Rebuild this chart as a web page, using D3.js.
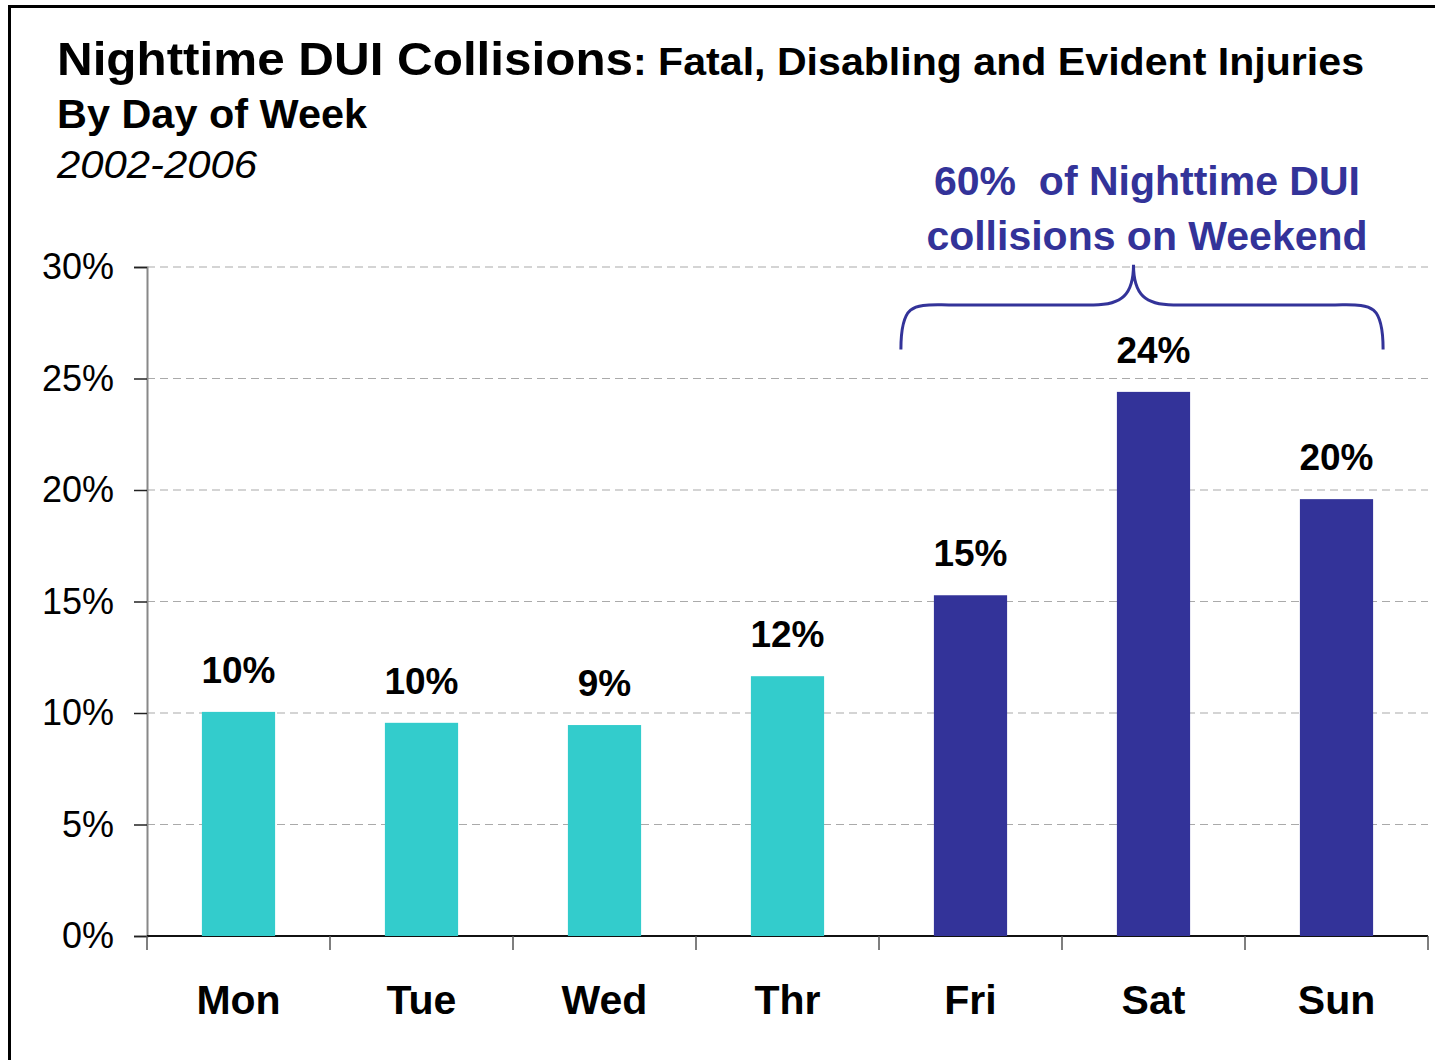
<!DOCTYPE html>
<html>
<head>
<meta charset="utf-8">
<script src="https://cdn.jsdelivr.net/npm/d3@7"></script>
<style>
  html, body { margin: 0; padding: 0; background: #fff; }
  svg { display: block; font-family: Arial, "Liberation Sans", Helvetica, sans-serif; }
</style>
</head>
<body>
<svg id="chart" width="1435" height="1060"></svg>
<script>
const days = ['Mon', 'Tue', 'Wed', 'Thr', 'Fri', 'Sat', 'Sun'];
const shares = [10.05, 9.56, 9.46, 11.65, 15.28, 24.4, 19.59];
const shareLabels = ['10%', '10%', '9%', '12%', '15%', '24%', '20%'];
const weekend = ['Fri', 'Sat', 'Sun'];
const yTicks = [0, 5, 10, 15, 20, 25, 30];

const width = 1435, height = 1060;
const margin = { top: 267, right: 7, bottom: 124, left: 147 };
const teal = '#33cccc', navy = '#333399';

const svg = d3.select('#chart');

// frame (left and top edges only show in the picture)
svg.append('path')
  .attr('d', `M9.5,${height} V6.5 H${width}`)
  .attr('fill', 'none')
  .attr('stroke', '#000')
  .attr('stroke-width', 3);

const x = d3.scaleBand()
  .domain(days)
  .range([margin.left, width - margin.right])
  .paddingInner(0.6)
  .paddingOuter(0.3);

const y = d3.scaleLinear()
  .domain([0, 30])
  .range([height - margin.bottom, margin.top]);

const step = x.step();
const bandStart = d => x(d) - step * 0.3;

// gridlines
svg.append('g')
  .selectAll('line')
  .data(yTicks.filter(t => t > 0))
  .join('line')
  .attr('x1', margin.left)
  .attr('x2', width - margin.right)
  .attr('y1', d => y(d))
  .attr('y2', d => y(d))
  .attr('stroke', '#aaa')
  .attr('stroke-width', 1.2)
  .attr('stroke-dasharray', '8,5');

// y axis
const yAxis = svg.append('g')
  .attr('transform', `translate(${margin.left},0)`)
  .call(d3.axisLeft(y).tickValues(yTicks).tickFormat(d => d + '%').tickSize(13).tickPadding(20));
yAxis.select('.domain').attr('stroke', '#888').attr('stroke-width', 2);
yAxis.selectAll('.tick line').attr('stroke', '#222').attr('stroke-width', 1.5);
yAxis.selectAll('.tick text')
  .attr('font-size', 36)
  .attr('fill', '#000')
  .attr('font-family', 'Arial, "Liberation Sans", sans-serif');

// x axis: ticks sit on category boundaries
const boundaries = days.map(bandStart).concat([width - margin.right]);
svg.append('line')
  .attr('x1', margin.left)
  .attr('x2', width - margin.right)
  .attr('y1', y(0))
  .attr('y2', y(0))
  .attr('stroke', '#111')
  .attr('stroke-width', 2);
svg.append('g')
  .selectAll('line')
  .data(boundaries)
  .join('line')
  .attr('x1', d => d)
  .attr('x2', d => d)
  .attr('y1', y(0))
  .attr('y2', y(0) + 14)
  .attr('stroke', '#555')
  .attr('stroke-width', 1.5);

svg.append('g')
  .selectAll('text')
  .data(days)
  .join('text')
  .attr('x', d => x(d) + x.bandwidth() / 2)
  .attr('y', y(0) + 78)
  .attr('text-anchor', 'middle')
  .attr('font-size', 41)
  .attr('font-weight', 'bold')
  .text(d => d);

// bars
svg.append('g')
  .selectAll('rect')
  .data(days)
  .join('rect')
  .attr('x', d => x(d))
  .attr('width', x.bandwidth())
  .attr('y', (d, i) => y(shares[i]))
  .attr('height', (d, i) => y(0) - y(shares[i]))
  .attr('fill', d => weekend.includes(d) ? navy : teal);

// value labels
svg.append('g')
  .selectAll('text')
  .data(days)
  .join('text')
  .attr('x', d => x(d) + x.bandwidth() / 2)
  .attr('y', (d, i) => y(shares[i]) - 29)
  .attr('text-anchor', 'middle')
  .attr('font-size', 37)
  .attr('font-weight', 'bold')
  .text((d, i) => shareLabels[i]);

// titles (source font runs a little wider than Arial, so stretch to fit)
svg.append('text')
  .attr('x', 57)
  .attr('y', 75)
  .attr('font-size', 47)
  .attr('font-weight', 'bold')
  .attr('textLength', 576)
  .attr('lengthAdjust', 'spacingAndGlyphs')
  .text('Nighttime DUI Collisions');

svg.append('text')
  .attr('x', 633)
  .attr('y', 75)
  .attr('font-size', 39)
  .attr('font-weight', 'bold')
  .attr('textLength', 731)
  .attr('lengthAdjust', 'spacingAndGlyphs')
  .text(': Fatal, Disabling and Evident Injuries');

svg.append('text')
  .attr('x', 57)
  .attr('y', 128)
  .attr('font-size', 40)
  .attr('font-weight', 'bold')
  .attr('textLength', 310)
  .attr('lengthAdjust', 'spacingAndGlyphs')
  .text('By Day of Week');

svg.append('text')
  .attr('x', 57)
  .attr('y', 178)
  .attr('font-size', 38)
  .attr('font-style', 'italic')
  .attr('textLength', 200)
  .attr('lengthAdjust', 'spacingAndGlyphs')
  .text('2002-2006');

// weekend annotation
const bx0 = x('Fri') - 33;
const bx1 = x('Sun') + x.bandwidth() + 10;
const tip = x('Sat') + x.bandwidth() / 2 - 20;
const yEnd = y(26.3), yBar = y(28.3), yTip = y(30.1);
const r = 48;
svg.append('path')
  .attr('d', `M${bx0},${yEnd} C${bx0},${yBar - 4} ${bx0 + 14},${yBar} ${bx0 + r},${yBar}
    L${tip - 40},${yBar} C${tip - 12},${yBar} ${tip},${yBar - 10} ${tip},${yTip}
    C${tip},${yBar - 10} ${tip + 12},${yBar} ${tip + 40},${yBar}
    L${bx1 - r},${yBar} C${bx1 - 14},${yBar} ${bx1},${yBar - 4} ${bx1},${yEnd}`)
  .attr('fill', 'none')
  .attr('stroke', navy)
  .attr('stroke-width', 3);

const note = svg.append('text')
  .attr('text-anchor', 'middle')
  .attr('font-size', 41)
  .attr('font-weight', 'bold')
  .attr('fill', navy);
note.append('tspan').attr('x', 1147).attr('y', 195).text('60%\u00a0 of Nighttime DUI');
note.append('tspan').attr('x', 1147).attr('y', 250).text('collisions on Weekend');
</script>
</body>
</html>
